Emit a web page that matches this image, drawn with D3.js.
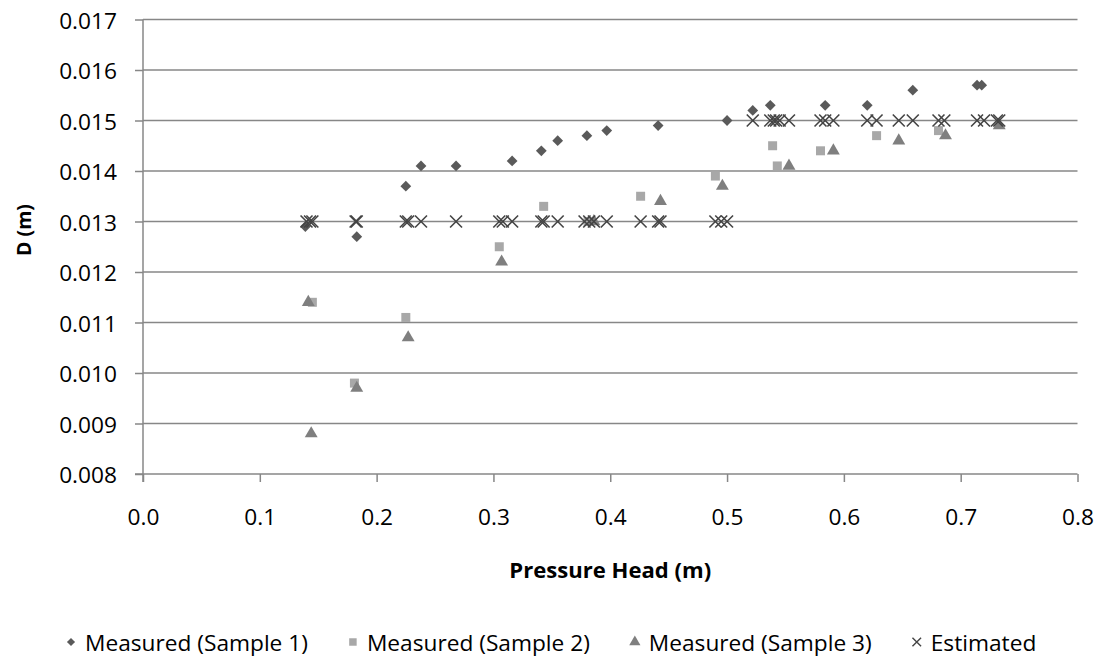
<!DOCTYPE html>
<html><head><meta charset="utf-8">
<script src="https://cdn.jsdelivr.net/npm/d3@7"></script>
<style>body{margin:0;background:#fff}svg{display:block}</style>
</head><body>
<svg id="c" width="1102" height="656"></svg>
<script>
const s1x=[0.139,0.183,0.225,0.238,0.268,0.316,0.341,0.355,0.380,0.397,0.441,0.500,0.522,0.537,0.584,0.620,0.659,0.714,0.718];
const s1y=[0.0129,0.0127,0.0137,0.0141,0.0141,0.0142,0.0144,0.0146,0.0147,0.0148,0.0149,0.0150,0.0152,0.0153,0.0153,0.0153,0.0156,0.0157,0.0157];
const s2x=[0.145,0.181,0.225,0.305,0.343,0.381,0.426,0.490,0.539,0.543,0.580,0.628,0.681];
const s2y=[0.0114,0.0098,0.0111,0.0125,0.0133,0.0130,0.0135,0.0139,0.0145,0.0141,0.0144,0.0147,0.0148];
const s3x=[0.1415,0.144,0.183,0.227,0.307,0.386,0.443,0.496,0.553,0.591,0.647,0.687,0.733];
const s3y=[0.0114,0.0088,0.0097,0.0107,0.0122,0.0130,0.0134,0.0137,0.0141,0.0144,0.0146,0.0147,0.0149];
const ex=[0.140,0.143,0.145,0.182,0.183,0.225,0.227,0.238,0.268,0.305,0.308,0.316,0.341,0.343,0.355,0.378,0.382,0.386,0.397,0.426,0.441,0.443,0.490,0.495,0.500,
          0.522,0.537,0.540,0.542,0.545,0.553,0.580,0.584,0.591,0.620,0.628,0.647,0.659,0.681,0.686,0.714,0.720,0.731,0.733];
const ey=[0.013,0.013,0.013,0.013,0.013,0.013,0.013,0.013,0.013,0.013,0.013,0.013,0.013,0.013,0.013,0.013,0.013,0.013,0.013,0.013,0.013,0.013,0.013,0.013,0.013,
          0.015,0.015,0.015,0.015,0.015,0.015,0.015,0.015,0.015,0.015,0.015,0.015,0.015,0.015,0.015,0.015,0.015,0.015,0.015];
const xTicks=[0,0.1,0.2,0.3,0.4,0.5,0.6,0.7,0.8];
const yTicks=[0.008,0.009,0.010,0.011,0.012,0.013,0.014,0.015,0.016,0.017];
const legendLabels=["Measured (Sample 1)","Measured (Sample 2)","Measured (Sample 3)","Estimated"];
const xTitle="Pressure Head (m)", yTitle="D (m)";

const FONT="'Open Sans', sans-serif";
const FS="22.7px";
const svg=d3.select("#c");
const L=143,R=1077.5,T=19.5,B=474;
const x=d3.scaleLinear().domain([0,0.8]).range([L,R]);
const y=d3.scaleLinear().domain([0.008,0.017]).range([B,T]);
const axisCol="#878787";

function fit(sel,target){const w=sel.node().getComputedTextLength();const f=parseFloat(sel.style("font-size"));sel.style("font-size",(f*target/w)+"px");}

// gridlines
svg.append("g").selectAll("line").data(yTicks.filter(d=>d>0.008)).join("line")
  .attr("x1",L).attr("x2",R).attr("y1",d=>y(d)).attr("y2",d=>y(d))
  .attr("stroke",axisCol).attr("stroke-width",1.5);

const ya=svg.append("g").attr("transform",`translate(${L},0)`)
  .call(d3.axisLeft(y).tickValues(yTicks).tickFormat(d3.format(".3f")).tickSize(8).tickPadding(18));
const xa=svg.append("g").attr("transform",`translate(0,${B})`)
  .call(d3.axisBottom(x).tickValues(xTicks).tickFormat(d3.format(".1f")).tickSize(8).tickPadding(22));
[ya,xa].forEach(a=>{a.selectAll("path,line").attr("stroke",axisCol).attr("stroke-width",1.5);
  a.selectAll("text").attr("fill","#000").style("font-family",FONT).style("font-size",FS);});
ya.select(".domain").attr("d",`M0,${T}V${B+8}`);
xa.select(".domain").attr("d",`M${L-8},0H${R}`);
ya.selectAll("text").attr("dy",null).attr("dominant-baseline","central");
xa.selectAll("text").attr("dy",null).attr("y",42).attr("dominant-baseline","central");

const xt=svg.append("text").attr("x",(L+R)/2).attr("y",569).attr("text-anchor","middle").attr("dominant-baseline","central")
  .style("font-family",FONT).style("font-size","22px").style("font-weight","bold").text(xTitle);
fit(xt,202);
const yt=svg.append("text").attr("transform",`translate(23,230) rotate(-90)`).attr("text-anchor","middle").attr("dominant-baseline","central")
  .style("font-family",FONT).style("font-size","22px").style("font-weight","bold").text(yTitle);
fit(yt,52);

const sym={
  diamond:d3.symbol().type(d3.symbolDiamond2).size(74),
  square:d3.symbol().type(d3.symbolSquare).size(81),
  triangle:d3.symbol().type(d3.symbolTriangle).size(72),
  cross:d3.symbol().type(d3.symbolX).size(95)
};
const cols={diamond:"#5a5a5a",square:"#a8a8a8",triangle:"#7f7f7f",cross:"#444"};
function pts(xs,ys,k){
  const g=svg.append("g");
  const data=xs.map((v,i)=>[v,ys[i]]);
  const p=g.selectAll("path").data(data).join("path").attr("d",sym[k])
    .attr("transform",d=>`translate(${x(d[0])},${y(d[1])})`);
  if(k==="cross") p.attr("fill","none").attr("stroke",cols[k]).attr("stroke-width",1.6);
  else p.attr("fill",cols[k]);
}
pts(s1x,s1y,"diamond");
pts(s2x,s2y,"square");
pts(s3x,s3y,"triangle");
pts(ex,ey,"cross");

// legend
const kinds=["diamond","square","triangle","cross"];
const lg=svg.append("g");
const legSym={diamond:d3.symbol().type(d3.symbolDiamond2).size(42),square:d3.symbol().type(d3.symbolSquare).size(56),
  triangle:d3.symbol().type(d3.symbolTriangle).size(55),cross:d3.symbol().type(d3.symbolX).size(50)};
let cx=0;
legendLabels.forEach((t,i)=>{
  const g=lg.append("g");
  const m=g.append("path").attr("d",legSym[kinds[i]]).attr("transform",`translate(${cx},0)`);
  if(kinds[i]==="cross") m.attr("fill","none").attr("stroke",cols.cross).attr("stroke-width",1.4); else m.attr("fill",cols[kinds[i]]);
  const tx=g.append("text").attr("x",cx+14).attr("y",0).attr("dominant-baseline","central")
    .style("font-family",FONT).style("font-size",FS).text(t);
  const w=tx.node().getComputedTextLength();
  cx+=14+w+45;
});
lg.attr("transform",`translate(71,642)`);
</script>
</body></html>
